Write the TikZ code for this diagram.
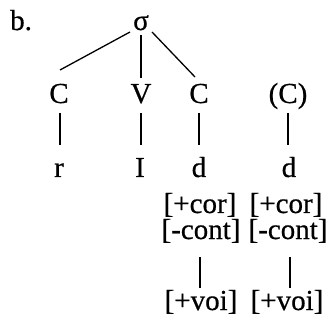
\documentclass[tikz,border=0pt]{standalone}
\usepackage{fontspec}
\setmainfont[FakeBold=0.6]{Liberation Serif}
\begin{document}
\begin{tikzpicture}[x=1pt,y=1pt,
  every node/.style={font=\fontsize{29}{29}\selectfont, inner sep=0pt, anchor=base},
  feat/.style={text depth=0pt},
  branch/.style={line width=1.3pt}]
\useasboundingbox (0,0) rectangle (331,321);
% label and syllable node
\node[anchor=base west] (lbl) at (10,291) {b.};
\node (sig) at (141,291) {σ};
% skeletal tier
\node (c1) at (59,218) {C};
\node (v) at (141,218) {V};
\node (c2) at (199,218) {C};
\node (c3) at (288,218) {(C)};
% segments
\node (r) at (59,144) {r};
\node (i) at (140,144) {I};
\node (d1) at (199,144) {d};
\node (d2) at (289,144) {d};
% feature bundles
\node[feat] (cor1) at (200,108) {[+cor]};
\node[feat] (cor2) at (286,108) {[+cor]};
\node[feat] (cont1) at (201,82) {[-cont]};
\node[feat] (cont2) at (288,82) {[-cont]};
\node (voi1) at (201,11) {[+voi]};
\node (voi2) at (287,11) {[+voi]};
% syllable branches
\draw[branch] ([shift={(-11,-2)}]sig.base) -- ([shift={(1,33)}]c1.base);
\draw[branch] ([shift={(0,-5)}]sig.base) -- ([shift={(0,25)}]v.base);
\draw[branch] ([shift={(11,-2)}]sig.base) -- ([shift={(-4,26)}]c2.base);
% association lines
\draw[branch] ([shift={(1,-10)}]c1.base) -- ([shift={(1,32)}]r.base);
\draw[branch] ([shift={(0,-10)}]v.base) -- ([shift={(1,32)}]i.base);
\draw[branch] ([shift={(0,-10)}]c2.base) -- ([shift={(0,32)}]d1.base);
\draw[branch] ([shift={(0,-10)}]c3.base) -- ([shift={(-1,32)}]d2.base);
\draw[branch] ([shift={(-1,-18)}]cont1.base) -- ([shift={(-1,22)}]voi1.base);
\draw[branch] ([shift={(2,-18)}]cont2.base) -- ([shift={(3,22)}]voi2.base);
\end{tikzpicture}
\end{document}
